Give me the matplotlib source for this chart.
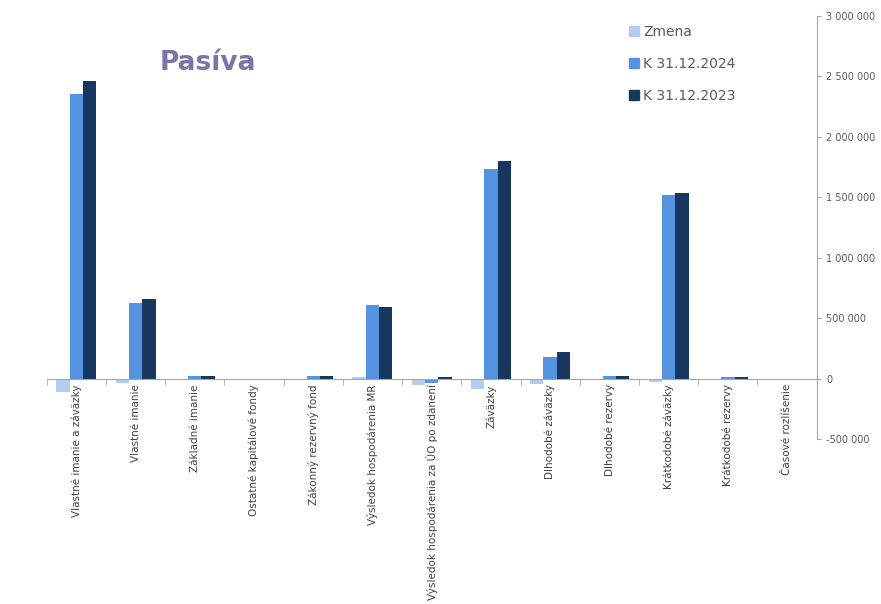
import numpy as np
import matplotlib.pyplot as plt
from matplotlib.patches import Patch
from matplotlib.ticker import FuncFormatter

# Data
categories = [
    "Vlastné imanie a záväzky",
    "Vlastné imanie",
    "Základné imanie",
    "Ostatné kapitálové fondy",
    "Zákonný rezervný fond",
    "Výsledok hospodárenia MR",
    "Výsledok hospodárenia za ÚO po zdanení",
    "Záväzky",
    "Dlhodobé záväzky",
    "Dlhodobé rezervy",
    "Krátkodobé záväzky",
    "Krátkodobé rezervy",
    "Časové rozlíšenie",
]
zmena = [-108000, -33000, 0, 0, 0, 17000, -50000, -83000, -45000, 0, -25000, 0, 0]
k2024 = [2355000, 628000, 25000, 0, 20000, 612000, -35000, 1736000, 182000, 20000, 1520000, 12000, 0]
k2023 = [2463000, 661000, 25000, 0, 20000, 595000, 12000, 1802000, 223000, 20000, 1537000, 12000, 0]

c_zmena = "#b3cdef"
c_2024 = "#5592e0"
c_2023 = "#17375f"
grey = "#595959"

fig = plt.figure(figsize=(8.81, 6.04), dpi=100)
ax = fig.add_axes([0.053, 0.273, 0.874, 0.7005])

x = np.arange(len(categories))
w = 0.225
ax.bar(x - w, zmena, w, color=c_zmena)
ax.bar(x, k2024, w, color=c_2024)
ax.bar(x + w, k2023, w, color=c_2023)

ax.set_xlim(-0.5, len(categories) - 0.5)
ax.set_ylim(-500000, 3000000)

# Axes styling
ax.spines["top"].set_visible(False)
ax.spines["left"].set_visible(False)
ax.spines["right"].set_color("#a6a6a6")
ax.spines["bottom"].set_color("#a6a6a6")
ax.spines["bottom"].set_position(("data", 0))

ax.yaxis.tick_right()
ax.set_yticks(np.arange(-500000, 3000001, 500000))
ax.yaxis.set_major_formatter(
    FuncFormatter(lambda v, p: f"{int(v):,}".replace(",", " "))
)
ax.tick_params(axis="y", colors="#a6a6a6", labelcolor=grey, labelsize=7,
               length=3, pad=4)

ax.set_xticks(x)
ax.set_xticklabels(categories, rotation=90, fontsize=7.5, color="#404040")
ax.set_xticks(np.arange(-0.5, len(categories), 1), minor=True)
ax.tick_params(axis="x", which="major", length=0, pad=4)
ax.tick_params(axis="x", which="minor", length=4, color="#a6a6a6")

# Title
fig.text(0.181, 0.884, "Pasíva", fontsize=19, fontweight="bold",
         color="#7b74a6")

# Legend
handles = [
    Patch(color=c_zmena, label="Zmena"),
    Patch(color=c_2024, label="K 31.12.2024"),
    Patch(color=c_2023, label="K 31.12.2023"),
]
fig.legend(handles=handles, loc="upper left", bbox_to_anchor=(0.7, 0.98),
           frameon=False, fontsize=10, labelcolor=grey, handlelength=0.7,
           handleheight=0.7, handletextpad=0.3, labelspacing=1.3)

plt.savefig("out.png", dpi=100)
